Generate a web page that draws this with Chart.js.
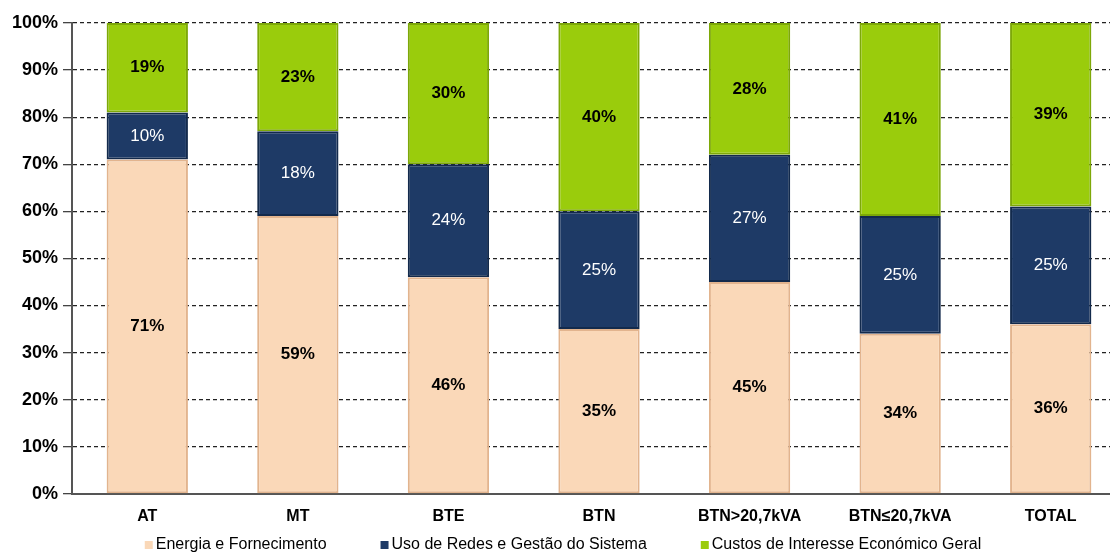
<!DOCTYPE html>
<html>
<head>
<meta charset="utf-8">
<script src="https://cdn.jsdelivr.net/npm/chart.js@4"></script>
<style>
  html, body { margin: 0; padding: 0; background: #fff; overflow: hidden; }
  #wrap { position: absolute; left: 0; top: 0; width: 1126px; height: 552px; }
</style>
</head>
<body>
<div id="wrap"><canvas id="costChart"></canvas></div>
<script>
const categories = ["AT", "MT", "BTE", "BTN", "BTN>20,7kVA", "BTN≤20,7kVA", "TOTAL"];
const energia = [71, 59, 46, 35, 45, 34, 36];
const redes = [10, 18, 24, 25, 27, 25, 25];
const custos = [19, 23, 30, 40, 28, 41, 39];
const seriesNames = ["Energia e Fornecimento", "Uso de Redes e Gestão do Sistema", "Custos de Interesse Económico Geral"];
const yTicks = [0, 10, 20, 30, 40, 50, 60, 70, 80, 90, 100];

const FONT = "Arial, 'Liberation Sans', sans-serif";
const labelColors = ["#000", "#fff", "#000"];
const labelWeights = ["bold", "normal", "bold"];

// percentage text in the middle of every segment
const barLabels = {
  id: "barLabels",
  afterDatasetsDraw(chart) {
    const ctx = chart.ctx;
    ctx.save();
    ctx.textAlign = "center";
    ctx.textBaseline = "middle";
    chart.data.datasets.forEach((ds, i) => {
      const meta = chart.getDatasetMeta(i);
      ctx.fillStyle = labelColors[i];
      ctx.font = labelWeights[i] + " 17px " + FONT;
      meta.data.forEach((bar, j) => {
        const mid = (bar.y + bar.base) / 2;
        ctx.fillText(ds.data[j] + "%", bar.x, mid);
      });
    });
    ctx.restore();
  }
};

// bottom legend with wide gaps between entries
const wideLegend = {
  id: "wideLegend",
  afterDraw(chart) {
    const ctx = chart.ctx;
    const box = 8, boxGap = 3, itemGap = 54;
    ctx.save();
    ctx.font = "16px " + FONT;
    ctx.textBaseline = "middle";
    ctx.textAlign = "left";
    const items = chart.data.datasets.map((ds) => ({
      text: ds.label,
      color: ds.backgroundColor,
      w: box + boxGap + ctx.measureText(ds.label).width
    }));
    const total = items.reduce((s, it) => s + it.w, 0) + itemGap * (items.length - 1);
    let x = chart.width / 2 - total / 2;
    const y = chart.height - 7;
    items.forEach((it) => {
      ctx.fillStyle = it.color;
      ctx.fillRect(x, y - box / 2, box, box);
      ctx.fillStyle = "#000";
      ctx.fillText(it.text, x + box + boxGap, y);
      x += it.w + itemGap;
    });
    ctx.restore();
  }
};

const ctx = document.getElementById("costChart").getContext("2d");

new Chart(ctx, {
  type: "bar",
  data: {
    labels: categories,
    datasets: [
      {
        label: seriesNames[0],
        data: energia,
        backgroundColor: "#FAD8B8",
        borderColor: "#E2B48E",
        borderWidth: 2,
        borderSkipped: false
      },
      {
        label: seriesNames[1],
        data: redes,
        backgroundColor: "#1E3A66",
        borderColor: "#132A4C",
        borderWidth: 2,
        borderSkipped: false
      },
      {
        label: seriesNames[2],
        data: custos,
        backgroundColor: "#9ACC0C",
        borderColor: "#7DA808",
        borderWidth: 2,
        borderSkipped: false
      }
    ]
  },
  options: {
    responsive: true,
    maintainAspectRatio: false,
    animation: false,
    layout: { padding: { top: 23, right: 0, left: 0, bottom: 21 } },
    datasets: {
      bar: { categoryPercentage: 1, barPercentage: 0.54 }
    },
    plugins: {
      legend: { display: false },
      tooltip: { enabled: false }
    },
    scales: {
      x: {
        stacked: true,
        grid: { display: false },
        border: { color: "#555", width: 2 },
        ticks: {
          color: "#000",
          padding: 5,
          font: { family: FONT, size: 16, weight: "bold" }
        }
      },
      y: {
        stacked: true,
        min: 0,
        max: 100,
        afterFit(scale) { scale.width = 72; },
        afterBuildTicks(scale) { scale.ticks = yTicks.map((v) => ({ value: v })); },
        border: { color: "#555", width: 2, dash: [4, 3] },
        grid: {
          color: "#222",
          lineWidth: 1.3,
          tickLength: 9,
          tickColor: "#444"
        },
        ticks: {
          color: "#000",
          padding: 5,
          callback: (v) => v + "%",
          font: { family: FONT, size: 18, weight: "bold" }
        }
      }
    }
  },
  plugins: [barLabels, wideLegend]
});
</script>
</body>
</html>
